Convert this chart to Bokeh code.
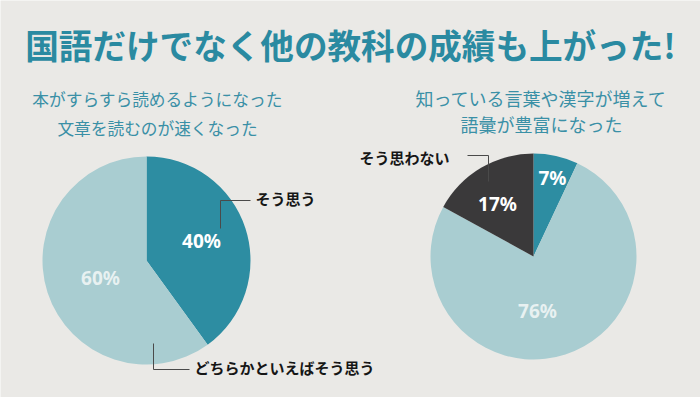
import math
from bokeh.plotting import figure
from bokeh.models import Range1d, ColumnDataSource
from bokeh.core.properties import value
from bokeh.embed import file_html
from bokeh.resources import INLINE

# ---------------- data ----------------
title_text = "国語だけでなく他の教科の成績も上がった!"

left_subtitle = ["本がすらすら読めるようになった", "文章を読むのが速くなった"]
left_categories = ["そう思う", "どちらかといえばそう思う"]
left_values = [40, 60]

right_subtitle = ["知っている言葉や漢字が増えて", "語彙が豊富になった"]
right_categories = ["そう思う", "どちらかといえばそう思う", "そう思わない"]
right_values = [7, 76, 17]

# ---------------- style ----------------
BG = "#eae9e6"
TEAL = "#2d8da2"
LIGHT = "#a9cdd1"
DARK = "#3a393a"
TITLE_C = "#2a8aa1"
SUB_C = "#3a90a6"
slice_colors = {"そう思う": TEAL, "どちらかといえばそう思う": LIGHT, "そう思わない": DARK}
label_colors = {"そう思う": "#ffffff", "どちらかといえばそう思う": "#f4f8f8", "そう思わない": "#ffffff"}
label_alpha = {"そう思う": 1.0, "どちらかといえばそう思う": 0.85, "そう思わない": 1.0}

W, H = 700, 397
JP = "Noto Sans CJK JP"

p = figure(width=W, height=H, output_backend="svg", toolbar_location=None,
           x_range=Range1d(0, W), y_range=Range1d(0, H),
           min_border=0, min_border_left=0, min_border_right=0,
           min_border_top=0, min_border_bottom=0)
p.axis.visible = False
p.grid.visible = False
p.outline_line_color = None
p.background_fill_color = BG
p.border_fill_color = BG

def Y(img_y):
    # image-pixel layout helper (y grows upward in data space)
    return H - img_y

# title
p.text(x=[350], y=[Y(44)], text=[title_text], text_font=value(JP), text_font_style="bold",
       text_font_size="33.6px", text_color=TITLE_C, text_align="center", text_baseline="middle")

def pie(cx, cy, r, cats, vals, label_offsets):
    total = float(sum(vals))
    starts, ends = [], []
    cum = 0.0
    for v in vals:
        starts.append(math.pi / 2 - 2 * math.pi * cum / total)
        cum += v
        ends.append(math.pi / 2 - 2 * math.pi * cum / total)
    src = ColumnDataSource(dict(x=[cx] * len(vals), y=[cy] * len(vals),
                                start=starts, end=ends,
                                color=[slice_colors[c] for c in cats]))
    p.wedge(x="x", y="y", radius=r, start_angle="start", end_angle="end",
            direction="clock", fill_color="color", line_color=None, source=src)
    for c, v, (dx, dy) in zip(cats, vals, label_offsets):
        p.text(x=[cx + dx], y=[cy + dy], text=[f"{v}%"], text_font=value("Noto Sans"),
               text_font_style="bold", text_font_size="19px", text_color=label_colors[c],
               text_alpha=label_alpha[c], text_align="center", text_baseline="middle")

# left pie
lcx, lcy = 146, Y(260)
pie(lcx, lcy, 104, left_categories, left_values, [(55, 20), (-46, -17)])
# right pie
rcx, rcy = 533, Y(256)
pie(rcx, rcy, 103, right_categories, right_values, [(19, 79), (4, -54), (-36, 53)])

# subtitles
for i, t in enumerate(left_subtitle):
    p.text(x=[157], y=[Y(98 + 29 * i)], text=[t], text_font=value(JP), text_font_size="16.7px",
           text_color=SUB_C, text_align="center", text_baseline="middle")
for i, t in enumerate(right_subtitle):
    p.text(x=[541], y=[Y(97 + 26 * i)], text=[t], text_font=value(JP), text_font_size="18px",
           text_color=SUB_C, text_align="center", text_baseline="middle")

# category call-outs with leader lines
LC = "#4a4a4a"
p.line(x=[220, 220, 250], y=[Y(228), Y(200), Y(200)], line_color=LC, line_width=1)
p.text(x=[255], y=[Y(198)], text=[left_categories[0]], text_font=value(JP), text_font_style="bold",
       text_font_size="15px", text_color="#161616", text_align="left", text_baseline="middle")

p.line(x=[153, 153, 189], y=[Y(343), Y(369), Y(369)], line_color=LC, line_width=1)
p.text(x=[194], y=[Y(367)], text=[left_categories[1]], text_font=value(JP), text_font_style="bold",
       text_font_size="15px", text_color="#161616", text_align="left", text_baseline="middle")

p.line(x=[488, 488, 467], y=[Y(181), Y(155), Y(155)], line_color=LC, line_width=1)
p.text(x=[359], y=[Y(157)], text=[right_categories[2]], text_font=value(JP), text_font_style="bold",
       text_font_size="15px", text_color="#161616", text_align="left", text_baseline="middle")

html = file_html(p, INLINE)
html = html.replace("<body>", '<body style="background-color:%s;">' % BG, 1)
open("out.html", "w").write(html)
